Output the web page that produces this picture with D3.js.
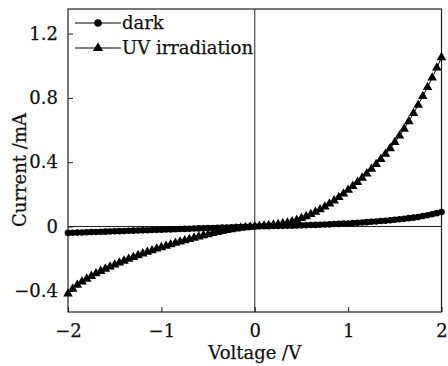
<!DOCTYPE html>
<html>
<head>
<meta charset="utf-8">
<script src="https://cdn.jsdelivr.net/npm/d3@7"></script>
<style>
  html, body { margin: 0; padding: 0; background: #fff; }
  svg { display: block; }
  text { font-family: "DejaVu Serif", serif; fill: #111; stroke: #111; stroke-width: 0.25px; }
</style>
</head>
<body>
<svg id="chart" width="448" height="366"></svg>
<script>
// Voltage steps (V), -2 .. 2 in 0.05 V steps
const voltage = [
  -2.00,-1.95,-1.90,-1.85,-1.80,-1.75,-1.70,-1.65,-1.60,-1.55,
  -1.50,-1.45,-1.40,-1.35,-1.30,-1.25,-1.20,-1.15,-1.10,-1.05,
  -1.00,-0.95,-0.90,-0.85,-0.80,-0.75,-0.70,-0.65,-0.60,-0.55,
  -0.50,-0.45,-0.40,-0.35,-0.30,-0.25,-0.20,-0.15,-0.10,-0.05,
   0.00, 0.05, 0.10, 0.15, 0.20, 0.25, 0.30, 0.35, 0.40, 0.45,
   0.50, 0.55, 0.60, 0.65, 0.70, 0.75, 0.80, 0.85, 0.90, 0.95,
   1.00, 1.05, 1.10, 1.15, 1.20, 1.25, 1.30, 1.35, 1.40, 1.45,
   1.50, 1.55, 1.60, 1.65, 1.70, 1.75, 1.80, 1.85, 1.90, 1.95,
   2.00
];
// Dark current (mA)
const darkCurrent = [
  -0.040,-0.039,-0.038,-0.037,-0.036,-0.035,-0.034,-0.033,-0.032,-0.031,
  -0.030,-0.029,-0.028,-0.027,-0.026,-0.025,-0.024,-0.023,-0.022,-0.021,
  -0.020,-0.019,-0.018,-0.017,-0.016,-0.015,-0.014,-0.013,-0.012,-0.011,
  -0.010,-0.009,-0.008,-0.007,-0.006,-0.005,-0.004,-0.003,-0.002,-0.001,
   0.000, 0.001, 0.001, 0.002, 0.003, 0.003, 0.004, 0.005, 0.005, 0.006,
   0.007, 0.008, 0.009, 0.010, 0.011, 0.012, 0.013, 0.015, 0.016, 0.018,
   0.019, 0.021, 0.023, 0.025, 0.027, 0.029, 0.031, 0.034, 0.036, 0.039,
   0.042, 0.045, 0.048, 0.052, 0.055, 0.059, 0.065, 0.070, 0.076, 0.083,
   0.090
];
// UV irradiation current (mA)
const uvCurrent = [
  -0.418,-0.388,-0.364,-0.344,-0.326,-0.309,-0.293,-0.278,-0.264,-0.251,
  -0.238,-0.226,-0.214,-0.202,-0.191,-0.180,-0.169,-0.159,-0.149,-0.139,
  -0.130,-0.121,-0.112,-0.103,-0.095,-0.087,-0.079,-0.071,-0.063,-0.056,
  -0.049,-0.042,-0.036,-0.030,-0.024,-0.019,-0.014,-0.010,-0.006,-0.003,
   0.000, 0.002, 0.004, 0.007, 0.010, 0.014, 0.018, 0.023, 0.030, 0.040,
   0.051, 0.063, 0.076, 0.090, 0.106, 0.123, 0.141, 0.161, 0.182, 0.204,
   0.227, 0.251, 0.276, 0.302, 0.329, 0.357, 0.387, 0.418, 0.451, 0.486,
   0.524, 0.564, 0.607, 0.654, 0.704, 0.756, 0.810, 0.866, 0.925, 0.987,
   1.052
];
const xTicks = [-2, -1, 0, 1, 2];
const xTickLabels = ["\u22122", "\u22121", "0", "1", "2"];
const yTicks = [-0.4, 0, 0.4, 0.8, 1.2];
const yTickLabels = ["\u22120.4", "0", "0.4", "0.8", "1.2"];
const seriesNames = ["dark", "UV irradiation"];
const xTitle = "Voltage /V";
const yTitle = "Current /mA";

const W = 448, H = 366;
const FS = 18;
const margin = {left: 68, right: 6.5, top: 9, bottom: 54};
const svg = d3.select("#chart");

const x = d3.scaleLinear().domain([-2, 2]).range([margin.left, W - margin.right]);
const y = d3.scaleLinear().domain([-0.532, 1.353]).range([H - margin.bottom, margin.top]);

const plot = svg.append("g");

// zero lines
plot.append("line")
  .attr("x1", x(-2)).attr("x2", x(2)).attr("y1", y(0)).attr("y2", y(0))
  .attr("stroke", "#222").attr("stroke-width", 1);
plot.append("line")
  .attr("x1", x(0)).attr("x2", x(0)).attr("y1", y.range()[0]).attr("y2", y.range()[1])
  .attr("stroke", "#222").attr("stroke-width", 1);

// axes (ticks inward)
const xAxis = d3.axisBottom(x).tickValues(xTicks)
  .tickFormat((d, i) => xTickLabels[i]).tickSizeInner(-5).tickSizeOuter(0).tickPadding(12);
const gx = svg.append("g").attr("transform", `translate(0,${H - margin.bottom})`).call(xAxis);
const yAxis = d3.axisLeft(y).tickValues(yTicks)
  .tickFormat((d, i) => yTickLabels[i]).tickSizeInner(-5).tickSizeOuter(0).tickPadding(10);
const gy = svg.append("g").attr("transform", `translate(${margin.left},0)`).call(yAxis);
[gx, gy].forEach(g => {
  g.select(".domain").remove();
  g.selectAll("line").attr("stroke", "#222");
  g.selectAll("text").attr("font-family", "DejaVu Serif").attr("font-size", FS).attr("fill", "#111");
});

// frame
svg.append("rect")
  .attr("x", x(-2)).attr("y", y.range()[1])
  .attr("width", x(2) - x(-2)).attr("height", y.range()[0] - y.range()[1])
  .attr("fill", "none").attr("stroke", "#222").attr("stroke-width", 1.2);

// data
const dark = voltage.map((v, i) => ({v, c: darkCurrent[i]}));
const uv = voltage.map((v, i) => ({v, c: uvCurrent[i]}));
const line = d3.line().x(d => x(d.v)).y(d => y(d.c));

const data = svg.append("g");
const triangle = d3.symbol().type(d3.symbolTriangle).size(40);

data.append("path").datum(uv).attr("d", line).attr("fill", "none").attr("stroke", "#000").attr("stroke-width", 1);
data.selectAll("path.uv").data(uv).enter().append("path").attr("class", "uv")
  .attr("d", triangle).attr("transform", d => `translate(${x(d.v)},${y(d.c)})`).attr("fill", "#000");

data.append("path").datum(dark).attr("d", line).attr("fill", "none").attr("stroke", "#000").attr("stroke-width", 1);
data.selectAll("circle.dark").data(dark).enter().append("circle").attr("class", "dark")
  .attr("cx", d => x(d.v)).attr("cy", d => y(d.c)).attr("r", 3.3).attr("fill", "#000");

// legend
const leg = svg.append("g");
const legY = [23, 48];
leg.append("line").attr("x1", 75).attr("x2", 121).attr("y1", legY[0]).attr("y2", legY[0]).attr("stroke", "#000").attr("stroke-width", 1.2);
leg.append("circle").attr("cx", 98).attr("cy", legY[0]).attr("r", 3.8).attr("fill", "#000");
leg.append("line").attr("x1", 75).attr("x2", 121).attr("y1", legY[1]).attr("y2", legY[1]).attr("stroke", "#000").attr("stroke-width", 1.2);
leg.append("path").attr("d", d3.symbol().type(d3.symbolTriangle).size(44)).attr("transform", `translate(98,${legY[1]})`).attr("fill", "#000");
leg.selectAll("text.lt").data(seriesNames).enter().append("text").attr("class", "lt")
  .attr("x", 122).attr("y", (d, i) => legY[i] + 6)
  .attr("font-size", FS).text(d => d);

// axis titles
svg.append("text").attr("x", x(0)).attr("y", 359).attr("text-anchor", "middle")
  .attr("font-size", FS).text(xTitle);
svg.append("text").attr("transform", `translate(26,170) rotate(-90)`).attr("text-anchor", "middle")
  .attr("font-size", FS).text(yTitle);
</script>
</body>
</html>
